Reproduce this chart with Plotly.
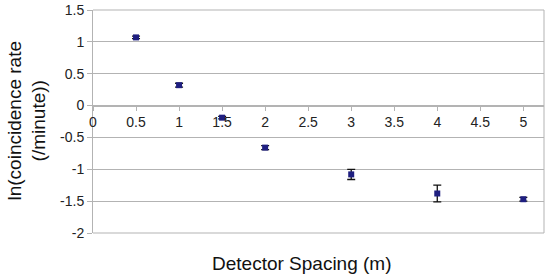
import plotly.graph_objects as go

spacing = [0.5, 1, 1.5, 2, 3, 4, 5]
ln_rate = [1.07, 0.32, -0.19, -0.66, -1.08, -1.38, -1.47]
ln_err = [0.02, 0.03, 0.02, 0.03, 0.08, 0.13, 0.03]

x_ticks = [0, 0.5, 1, 1.5, 2, 2.5, 3, 3.5, 4, 4.5, 5]
x_tick_text = ["0", "0.5", "1", "1.5", "2", "2.5", "3", "3.5", "4", "4.5", "5"]
y_ticks = [-2, -1.5, -1, -0.5, 0, 0.5, 1, 1.5]
y_tick_text = ["-2", "-1.5", "-1", "-0.5", "0", "0.5", "1", "1.5"]

FONT = "Liberation Sans, Arial, sans-serif"
ymin, ymax = -2, 1.5
GRID = "#b3b3b3"

W, H = 550, 280
L, T, R, B = 93, 10, 6, 47
PW, PH = W - L - R, H - T - B

fig = go.Figure()
fig.add_trace(go.Scatter(
    x=spacing, y=ln_rate, mode="markers",
    marker=dict(symbol="square", size=6, color="#1f1f80"),
    error_y=dict(type="data", array=ln_err, visible=True, color="#111111",
                 thickness=1.3, width=4),
    showlegend=False, cliponaxis=False,
))

fig.update_layout(
    width=W, height=H,
    margin=dict(l=L, r=R, t=T, b=B, autoexpand=False),
    paper_bgcolor="white", plot_bgcolor="white",
    font=dict(family=FONT, color="#222222"),
    xaxis=dict(
        range=[0, 5.24], tickvals=x_ticks, ticktext=x_tick_text,
        showgrid=False, zeroline=False, showline=True, linecolor=GRID,
        ticks="outside", ticklen=4, tickcolor=GRID,
        tickfont=dict(size=14, family=FONT, color="#222222"),
        anchor="free", position=(0 - ymin) / (ymax - ymin), automargin=False,
    ),
    yaxis=dict(
        range=[ymin, ymax], tickvals=y_ticks, ticktext=y_tick_text,
        showgrid=True, gridcolor=GRID, gridwidth=1,
        zeroline=False, showline=True, linecolor=GRID,
        ticks="outside", ticklen=5, tickcolor=GRID,
        tickfont=dict(size=14, family=FONT, color="#222222"),
        automargin=False,
    ),
    shapes=[
        dict(type="line", xref="paper", yref="paper", x0=1, x1=1, y0=0, y1=1,
             line=dict(color=GRID, width=1), layer="below"),
        dict(type="line", xref="paper", yref="paper", x0=0, x1=1, y0=1, y1=1,
             line=dict(color=GRID, width=1), layer="below"),
        dict(type="line", xref="paper", yref="paper", x0=0, x1=1, y0=0, y1=0,
             line=dict(color=GRID, width=1), layer="below"),
    ],
    annotations=[
        dict(text="Detector Spacing (m)", xref="paper", yref="paper",
             x=(302 - L) / PW, y=-(263 - 233) / PH, xanchor="center", yanchor="middle",
             showarrow=False,
             font=dict(size=19, family=FONT, color="#111111")),
        dict(text="ln(coincidence rate<br>(/minute))", xref="paper", yref="paper",
             x=-(L - 26) / PW, y=0.5, xanchor="center", yanchor="middle",
             textangle=-90, showarrow=False,
             font=dict(size=19, family=FONT, color="#111111")),
    ],
)

# remove the page's default 8px body margin so the figure sits at the top-left corner
fig.write_html("out.html", config={"displayModeBar": False},
               post_script="document.body.style.margin='0px';")
